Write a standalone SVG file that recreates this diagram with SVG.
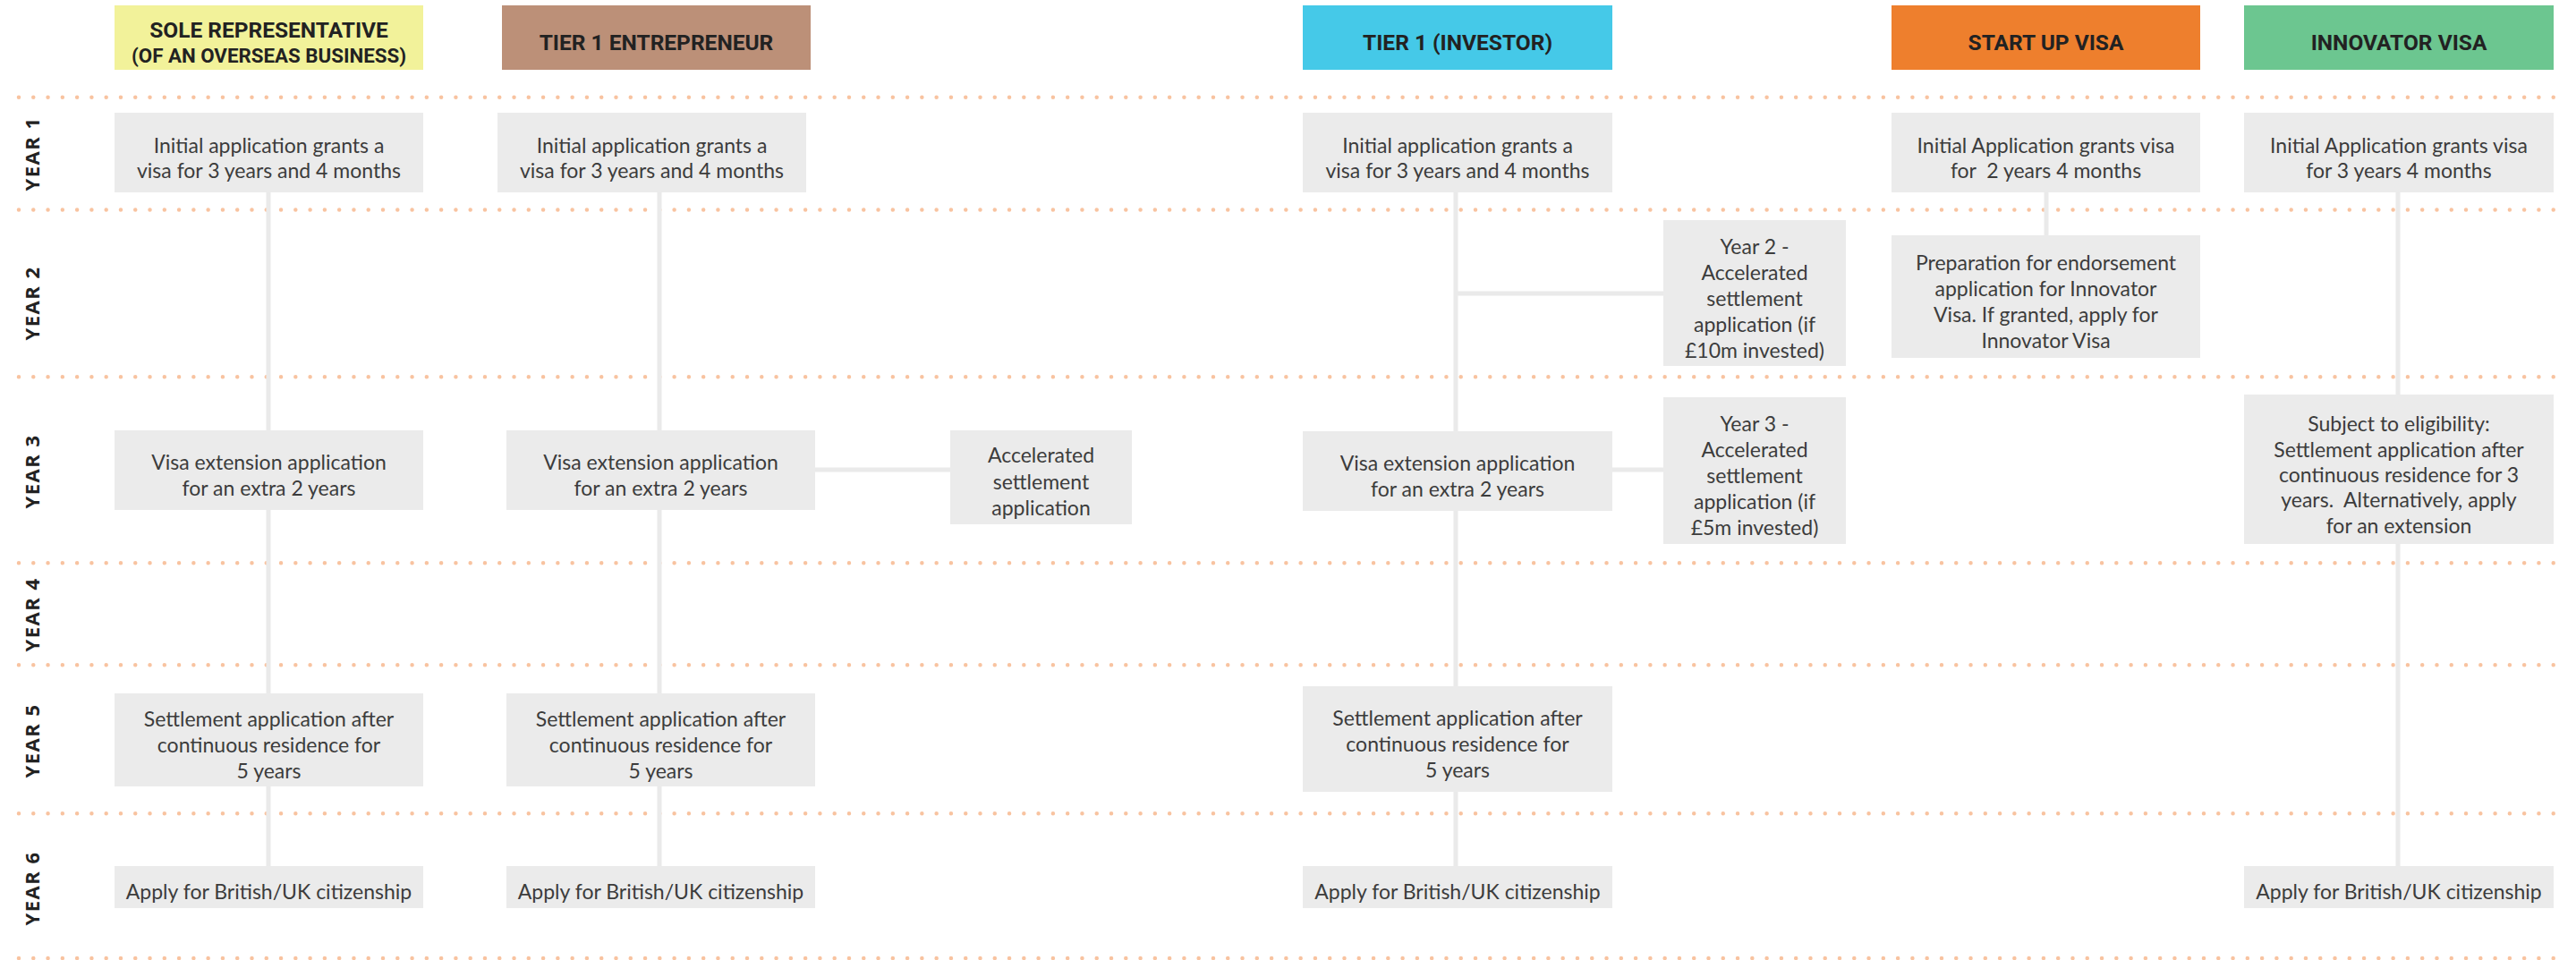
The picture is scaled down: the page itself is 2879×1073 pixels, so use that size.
<svg xmlns="http://www.w3.org/2000/svg" width="2879" height="1073" viewBox="0 0 2879 1073">
<style>
.dot{stroke:#F8C3A0;stroke-width:4.5;stroke-linecap:round;stroke-dasharray:0 16.28;fill:none}
.con{stroke:#EAEAEA;stroke-width:5;fill:none}
.box{fill:#EBEBEB}
.t{font-family:Lato,"Open Sans","Liberation Sans",sans-serif;font-size:23px;fill:#3c3c3c;text-anchor:middle;dominant-baseline:central}
.h{font-family:Roboto,"Liberation Sans",sans-serif;font-weight:bold;font-size:24.5px;fill:#222;text-anchor:middle;dominant-baseline:central}
.h2{font-size:22.3px}
.yr{font-family:"Open Sans","Liberation Sans",sans-serif;font-weight:bold;font-size:22px;letter-spacing:1.5px;fill:#222;text-anchor:middle;dominant-baseline:central}
</style>
<rect width="2879" height="1073" fill="#ffffff"/>
<g id="grid">
<line class="dot" x1="21" y1="108.7" x2="2856" y2="108.7"/>
<line class="dot" x1="21" y1="234.5" x2="2856" y2="234.5"/>
<line class="dot" x1="21" y1="421.3" x2="2856" y2="421.3"/>
<line class="dot" x1="21" y1="629.3" x2="2856" y2="629.3"/>
<line class="dot" x1="21" y1="743.3" x2="2856" y2="743.3"/>
<line class="dot" x1="21" y1="909.3" x2="2856" y2="909.3"/>
<line class="dot" x1="21" y1="1071" x2="2856" y2="1071"/>
</g>
<g id="year-labels">
<text class="yr" transform="translate(35,172) rotate(-90)">YEAR 1</text>
<text class="yr" transform="translate(35,339) rotate(-90)">YEAR 2</text>
<text class="yr" transform="translate(35,527) rotate(-90)">YEAR 3</text>
<text class="yr" transform="translate(35,687) rotate(-90)">YEAR 4</text>
<text class="yr" transform="translate(35,828) rotate(-90)">YEAR 5</text>
<text class="yr" transform="translate(35,993) rotate(-90)">YEAR 6</text>
</g>
<g id="connectors">
<line class="con" x1="300" y1="214" x2="300" y2="969"/>
<line class="con" x1="737" y1="214" x2="737" y2="969"/>
<line class="con" x1="1627" y1="214" x2="1627" y2="969"/>
<line class="con" x1="2287" y1="214" x2="2287" y2="264"/>
<line class="con" x1="2680" y1="214" x2="2680" y2="969"/>
<line class="con" x1="910" y1="525" x2="1063" y2="525"/>
<line class="con" x1="1627" y1="328" x2="1860" y2="328"/>
<line class="con" x1="1801" y1="525" x2="1860" y2="525"/>
</g>
<g id="hdr-sole"><rect x="128" y="6" width="345" height="72" fill="#F2F29A"/><text class="h" x="300.5" y="33.5">SOLE REPRESENTATIVE</text><text class="h h2" x="300.5" y="62">(OF AN OVERSEAS BUSINESS)</text></g>
<g id="hdr-entrepreneur"><rect x="561" y="6" width="345" height="72" fill="#BC9078"/><text class="h" x="733.5" y="47">TIER 1 ENTREPRENEUR</text></g>
<g id="hdr-investor"><rect x="1456" y="6" width="346" height="72" fill="#45C9E8"/><text class="h" x="1629" y="47">TIER 1 (INVESTOR)</text></g>
<g id="hdr-startup"><rect x="2114" y="6" width="345" height="72" fill="#EE7F2D"/><text class="h" x="2286.5" y="47">START UP VISA</text></g>
<g id="hdr-innovator"><rect x="2508" y="6" width="346" height="72" fill="#6CC690"/><text class="h" x="2681" y="47">INNOVATOR VISA</text></g>

<g id="sole-y1"><rect class="box" x="128" y="126" width="345" height="89"/><text class="t" x="300.5" y="162">Initial application grants a</text><text class="t" x="300.5" y="190">visa for 3 years and 4 months</text></g>
<g id="entre-y1"><rect class="box" x="556" y="126" width="345" height="89"/><text class="t" x="728.5" y="162">Initial application grants a</text><text class="t" x="728.5" y="190">visa for 3 years and 4 months</text></g>
<g id="inv-y1"><rect class="box" x="1456" y="126" width="346" height="89"/><text class="t" x="1629" y="162">Initial application grants a</text><text class="t" x="1629" y="190">visa for 3 years and 4 months</text></g>
<g id="start-y1"><rect class="box" x="2114" y="126" width="345" height="89"/><text class="t" x="2286.5" y="162">Initial Application grants visa</text><text class="t" x="2286.5" y="190" xml:space="preserve">for  2 years 4 months</text></g>
<g id="innov-y1"><rect class="box" x="2508" y="126" width="346" height="89"/><text class="t" x="2681" y="162">Initial Application grants visa</text><text class="t" x="2681" y="190">for 3 years 4 months</text></g>

<g id="inv-y2-accel"><rect class="box" x="1859" y="246" width="204" height="163"/><text class="t" x="1961" y="275">Year 2 -</text><text class="t" x="1961" y="304">Accelerated</text><text class="t" x="1961" y="333">settlement</text><text class="t" x="1961" y="362">application (if</text><text class="t" x="1961" y="391">£10m invested)</text></g>
<g id="start-y2"><rect class="box" x="2114" y="263" width="345" height="137"/><text class="t" x="2286.5" y="293">Preparation for endorsement</text><text class="t" x="2286.5" y="322">application for Innovator</text><text class="t" x="2286.5" y="351">Visa. If granted, apply for</text><text class="t" x="2286.5" y="380">Innovator Visa</text></g>

<g id="sole-y3"><rect class="box" x="128" y="481" width="345" height="89"/><text class="t" x="300.5" y="516">Visa extension application</text><text class="t" x="300.5" y="545">for an extra 2 years</text></g>
<g id="entre-y3"><rect class="box" x="566" y="481" width="345" height="89"/><text class="t" x="738.5" y="516">Visa extension application</text><text class="t" x="738.5" y="545">for an extra 2 years</text></g>
<g id="entre-accel"><rect class="box" x="1062" y="481" width="203" height="105"/><text class="t" x="1163.5" y="508">Accelerated</text><text class="t" x="1163.5" y="538">settlement</text><text class="t" x="1163.5" y="567">application</text></g>
<g id="inv-y3"><rect class="box" x="1456" y="482" width="346" height="89"/><text class="t" x="1629" y="517">Visa extension application</text><text class="t" x="1629" y="546">for an extra 2 years</text></g>
<g id="inv-y3-accel"><rect class="box" x="1859" y="444" width="204" height="164"/><text class="t" x="1961" y="473">Year 3 -</text><text class="t" x="1961" y="502">Accelerated</text><text class="t" x="1961" y="531">settlement</text><text class="t" x="1961" y="560">application (if</text><text class="t" x="1961" y="589">£5m invested)</text></g>
<g id="innov-y3"><rect class="box" x="2508" y="441" width="346" height="167"/><text class="t" x="2681" y="473">Subject to eligibility:</text><text class="t" x="2681" y="502">Settlement application after</text><text class="t" x="2681" y="530">continuous residence for 3</text><text class="t" x="2681" y="558" xml:space="preserve">years.  Alternatively, apply</text><text class="t" x="2681" y="587">for an extension</text></g>

<g id="sole-y5"><rect class="box" x="128" y="775" width="345" height="104"/><text class="t" x="300.5" y="803">Settlement application after</text><text class="t" x="300.5" y="832">continuous residence for</text><text class="t" x="300.5" y="861">5 years</text></g>
<g id="entre-y5"><rect class="box" x="566" y="775" width="345" height="104"/><text class="t" x="738.5" y="803">Settlement application after</text><text class="t" x="738.5" y="832">continuous residence for</text><text class="t" x="738.5" y="861">5 years</text></g>
<g id="inv-y5"><rect class="box" x="1456" y="767" width="346" height="118"/><text class="t" x="1629" y="802">Settlement application after</text><text class="t" x="1629" y="831">continuous residence for</text><text class="t" x="1629" y="860">5 years</text></g>

<g id="sole-y6"><rect class="box" x="128" y="968" width="345" height="47"/><text class="t" x="300.5" y="996">Apply for British/UK citizenship</text></g>
<g id="entre-y6"><rect class="box" x="566" y="968" width="345" height="47"/><text class="t" x="738.5" y="996">Apply for British/UK citizenship</text></g>
<g id="inv-y6"><rect class="box" x="1456" y="968" width="346" height="47"/><text class="t" x="1629" y="996">Apply for British/UK citizenship</text></g>
<g id="innov-y6"><rect class="box" x="2508" y="968" width="346" height="47"/><text class="t" x="2681" y="996">Apply for British/UK citizenship</text></g>
</svg>
